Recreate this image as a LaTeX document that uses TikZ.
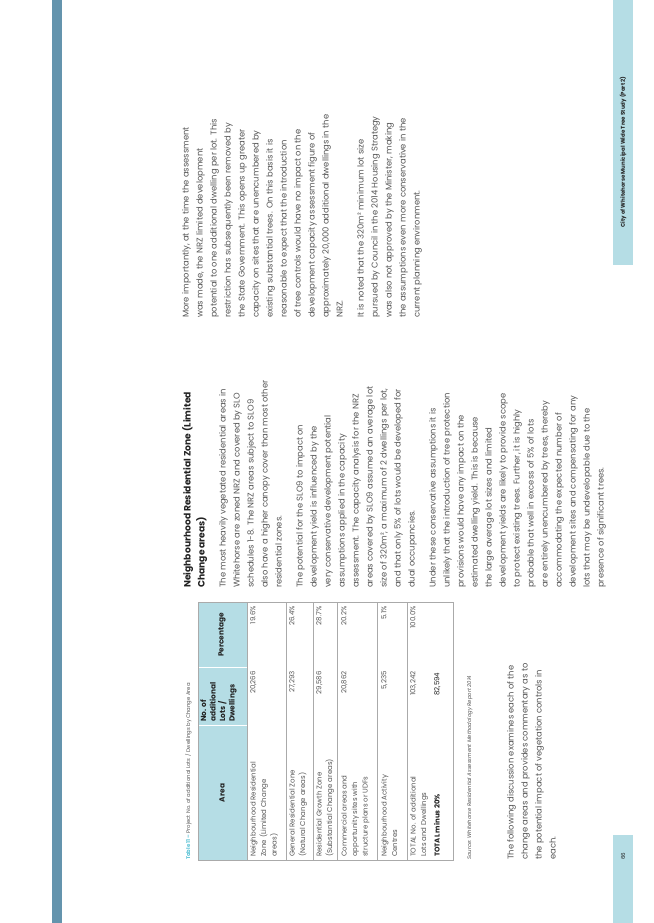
\documentclass[tikz,border=0pt]{standalone}
\usepackage{fontspec}
\setmainfont{Poppins}
\definecolor{darkbar}{HTML}{6494AD}
\definecolor{lightbar}{HTML}{B5DDE5}
\definecolor{txt}{HTML}{555555}
\definecolor{head}{HTML}{222222}
\definecolor{capblue}{HTML}{5CC3D6}
\definecolor{rule}{HTML}{AAAAAA}
\tikzset{
  rot/.style={rotate=90,inner sep=0pt,align=left,text=txt},
  body/.style={rot,font=\fontsize{8.4}{14}\selectfont},
  cell/.style={rot,font=\fontsize{7}{10.5}\selectfont},
  hcell/.style={rot,text=head,font=\fontsize{7.4}{9.5}\selectfont\bfseries},
}
\begin{document}
\begin{tikzpicture}[x=1pt,y=-1pt]
\useasboundingbox (0,0) rectangle (653,923);
\fill[white] (0,0) rectangle (653,923);
% side bars
\fill[darkbar] (52,0) rectangle (62,923);
\fill[lightbar] (613,0) rectangle (633,265);
\fill[lightbar] (613,835) rectangle (633,923);
\node[rot,text=head,font=\fontsize{5.5}{6}\selectfont\bfseries] (foot) at (623,152) {City of Whitehorse Municipal Wide Tree Study (Part 2)};
\node[rot,text=head,font=\fontsize{5.5}{6}\selectfont] (pnum) at (623,856) {66};
% column 3
\node[body,anchor=north west] (colc) at (182,318) {More importantly, at the time the assessment\\
was made, the NRZ limited development\\
potential to one additional dwelling per lot. This\\
restriction has subsequently been removed by\\
the State Government. This opens up greater\\
capacity on sites that are unencumbered by\\
existing substantial trees. On this basis it is\\
reasonable to expect that the introduction\\
of tree controls would have no impact on the\\
development capacity assessment figure of\\
approximately 20,000 additional dwellings in the\\
NRZ.\\[7pt]
It is noted that the 320m² minimum lot size\\
pursued by Council in the 2014 Housing Strategy\\
was also not approved by the Minister, making\\
the assumptions even more conservative in the\\
current planning environment.};
% column 2
\node[body,anchor=north west] (colb) at (182,588) {{\fontsize{9.2}{14}\selectfont\bfseries\color{head}Neighbourhood Residential Zone (Limited}\\
{\fontsize{9.2}{14}\selectfont\bfseries\color{head}Change areas)}\\[7pt]
The most heavily vegetated residential areas in\\
Whitehorse are zoned NRZ and covered by SLO\\
schedules 1-8. The NRZ areas subject to SLO9\\
also have a higher canopy cover than most other\\
residential zones.\\[7pt]
The potential for the SLO9 to impact on\\
development yield is influenced by the\\
very conservative development potential\\
assumptions applied in the capacity\\
assessment. The capacity analysis for the NRZ\\
areas covered by SLO9 assumed an average lot\\
size of 320m², a maximum of 2 dwellings per lot,\\
and that only 5\% of lots would be developed for\\
dual occupancies.\\[7pt]
Under these conservative assumptions it is\\
unlikely that the introduction of tree protection\\
provisions would have any impact on the\\
estimated dwelling yield. This is because\\
the large average lot sizes and limited\\
development yields are likely to provide scope\\
to protect existing trees. Further, it is highly\\
probable that well in excess of 5\% of lots\\
are entirely unencumbered by trees, thereby\\
accommodating the expected number of\\
development sites and compensating for any\\
lots that may be undevelopable due to the\\
presence of significant trees.};
% table caption
\node[rot,anchor=base west,font=\fontsize{5.3}{6}\selectfont] (cap) at (190,860) {{\color{capblue}\bfseries Table 11 –} Project No. of additional Lots / Dwellings by Change Area};
% table
\fill[lightbar] (198,602) rectangle (247,860);
\draw[white,line width=0.8pt] (198,725) -- (247,725) (198,667) -- (247,667);
\foreach \xx in {247,286,313,337,377,407} \draw[rule,line width=0.4pt] (\xx,602) -- (\xx,860);
\draw[rule,line width=0.5pt] (198,602) rectangle (453,860);
\node[hcell] (hArea) at (222,793) {Area};
\node[hcell,anchor=north west] (hNo) at (200,722) {No. of\\additional\\Lots /\\Dwellings};
\node[hcell] (hPct) at (222,635) {Percentage};
% rows
\node[cell,anchor=north west] (r1a) at (250,857) {Neighbourhood Residential\\Zone (Limited Change\\areas)};
\node[cell,anchor=north east] (r1b) at (250,671) {20,266};
\node[cell,anchor=north east] (r1c) at (250,606) {19.6\%};
\node[cell,anchor=north west] (r2a) at (289,857) {General Residential Zone\\(Natural Change areas)};
\node[cell,anchor=north east] (r2b) at (289,671) {27,293};
\node[cell,anchor=north east] (r2c) at (289,606) {26.4\%};
\node[cell,anchor=north west] (r3a) at (316,857) {Residential Growth Zone\\(Substantial Change areas)};
\node[cell,anchor=north east] (r3b) at (316,671) {29,586};
\node[cell,anchor=north east] (r3c) at (316,606) {28.7\%};
\node[cell,anchor=north west] (r4a) at (341,857) {Commercial areas and\\opportunity sites with\\structure plans or UDFs};
\node[cell,anchor=north east] (r4b) at (341,671) {20,862};
\node[cell,anchor=north east] (r4c) at (341,606) {20.2\%};
\node[cell,anchor=north west] (r5a) at (381,857) {Neighbourhood Activity\\Centres};
\node[cell,anchor=north east] (r5b) at (381,671) {5,235};
\node[cell,anchor=north east] (r5c) at (381,606) {5.1\%};
\node[cell,anchor=north west] (r6a) at (410,857) {TOTAL No. of additional\\Lots and Dwellings\\[3pt]{\color{head}\bfseries TOTAL minus 20\%}};
\node[cell,anchor=north east] (r6b) at (410,671) {103,242\\[13.5pt]{\color{head}82,594}};
\node[cell,anchor=north east] (r6c) at (410,606) {100.0\%};
% source and intro
\node[rot,anchor=base west,font=\fontsize{5.3}{6}\selectfont\itshape] (src) at (471,860) {Source: Whitehorse Residential Assessment Methodology Report 2014};
\node[body,anchor=north west] (intro) at (507,860) {The following discussion examines each of the\\
change areas and provides commentary as to\\
the potential impact of vegetation controls in\\
each.};
\end{tikzpicture}
\end{document}
